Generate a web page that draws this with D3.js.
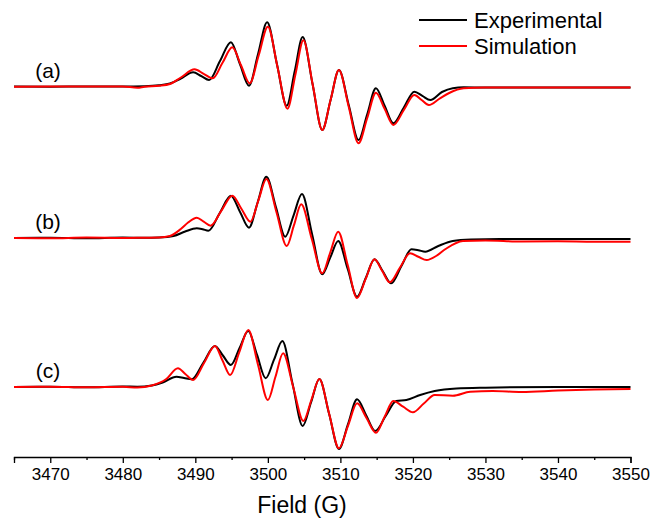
<!DOCTYPE html>
<html>
<head>
<meta charset="utf-8">
<script src="https://cdn.jsdelivr.net/npm/d3@7"></script>
<style>
  html, body { margin: 0; padding: 0; background: #ffffff; }
  svg { display: block; font-family: "Liberation Sans", Arial, sans-serif; }
</style>
</head>
<body>
<svg id="chart" width="650" height="519"></svg>
<script>
// ---------------- DATA ----------------
const fieldDomain = [3465, 3550];
const majorTicks = [3470, 3480, 3490, 3500, 3510, 3520, 3530, 3540, 3550];
const minorTicks = [3465, 3475, 3485, 3495, 3505, 3515, 3525, 3535, 3545];
const panelLabels = ["(a)", "(b)", "(c)"];
const panelOffsets = [0, -151, -300];
const seriesNames = ["Experimental", "Simulation"];
const seriesColors = ["#000000", "#ff0000"];

// [field (G), intensity]
const expA = [[3465,0.5],[3470,0.3],[3475,0.6],[3480,0.4],[3483,0.8],[3485,1.8],[3486.5,3.5],[3488,8.5],[3489.7,14.7],[3490.8,11],[3491.9,7],[3493.4,25.9],[3494.9,44.7],[3496.15,23],[3497.4,1.3],[3498.65,33],[3499.9,64.7],[3501.25,23],[3502.6,-18.7],[3503.7,15.7],[3504.8,50],[3506.15,3.5],[3507.5,-43],[3508.65,-13],[3509.8,17],[3511.15,-18],[3512.5,-53],[3513.7,-27.2],[3514.9,-1.3],[3516.1,-18.8],[3517.3,-36.3],[3518.75,-20.5],[3520.2,-4.7],[3521.3,-8.9],[3522.4,-13],[3524,-5],[3525.5,-1.2],[3527,-0.3],[3530,-0.6],[3535,-0.4],[3540,-0.6],[3545,-0.5],[3550,-0.5]];
const simA = [[3465,0.3],[3470,0.5],[3475,0.4],[3480,0.6],[3482,-0.8],[3483,0.3],[3485,1.2],[3486.5,3],[3488,9.5],[3489.9,17.7],[3491.15,13.2],[3492.4,8.7],[3493.75,24.2],[3495.1,39.7],[3496.3,21.7],[3497.5,3.7],[3498.75,32],[3500.0,60.3],[3501.35,19.3],[3502.7,-21.7],[3503.8,12.5],[3504.9,46.7],[3506.2,1.8],[3507.5,-43],[3508.65,-13],[3509.8,17],[3511.15,-19.7],[3512.5,-56.3],[3513.7,-31],[3514.9,-5.7],[3516.1,-21.8],[3517.3,-38],[3518.75,-23],[3520.2,-8],[3521.2,-13],[3522.2,-18],[3523.6,-12],[3525,-6],[3527,-1.3],[3530,-0.6],[3535,-0.5],[3540,-0.5],[3550,-0.5]];

const expB = [[3465,0],[3470,0.3],[3475,-0.3],[3480,0.4],[3483,0.2],[3485,0.5],[3487,2],[3488.6,6.5],[3490.2,9.7],[3491,8.8],[3491.8,7.3],[3493.35,24.8],[3494.9,42.3],[3496.15,26.3],[3497.4,10.3],[3498.6,35.8],[3499.8,61.3],[3501.1,31.3],[3502.4,1.3],[3503.55,22.7],[3504.7,44],[3506.1,3.8],[3507.5,-36.3],[3508.6,-19.6],[3509.7,-3],[3511,-30.8],[3512.3,-58.7],[3513.5,-40],[3514.7,-21.3],[3515.85,-33.3],[3517.0,-45.3],[3518.4,-28.3],[3519.8,-11.3],[3520.75,-12.2],[3521.7,-13.7],[3523.5,-8],[3525.5,-3],[3528,-1.5],[3532,-1],[3540,-1],[3550,-1]];
const simB = [[3465,0],[3470,-0.3],[3475,0.4],[3480,0],[3483,0.3],[3485,0.5],[3486.5,2],[3488,9],[3489,15.5],[3490.2,20.3],[3491.15,16.3],[3492.1,12.3],[3493.6,27.3],[3495.1,42.3],[3496.35,29.3],[3497.6,16.3],[3498.7,37.7],[3499.8,59],[3501.2,25.5],[3502.6,-8],[3503.6,12.8],[3504.6,33.7],[3506.05,-0.8],[3507.5,-35.3],[3508.6,-14.5],[3509.7,6.3],[3511,-26.8],[3512.3,-60],[3513.5,-40.7],[3514.7,-21.3],[3515.75,-32.8],[3516.8,-44.3],[3518.2,-29.8],[3519.6,-15.3],[3520.75,-18.7],[3521.9,-22],[3523.2,-18],[3524.5,-11],[3526.9,-3],[3530,-2.5],[3535,-3.5],[3540,-3.3],[3545,-3.7],[3550,-3.7]];

const expC = [[3465,0],[3470,0.3],[3475,-0.3],[3480,0.5],[3482,0.3],[3484,1.5],[3485.5,4.5],[3487.4,10.3],[3488.45,9],[3489.5,7.7],[3491.1,24.3],[3492.7,41],[3493.8,31.5],[3494.9,22],[3496.1,39],[3497.3,56],[3498.5,32.3],[3499.7,8.7],[3500.85,27.3],[3502.0,46],[3503.4,3.5],[3504.8,-39],[3505.95,-15.5],[3507.1,8],[3508.45,-27],[3509.8,-62],[3511.05,-37.2],[3512.3,-12.3],[3513.55,-28.2],[3514.8,-44],[3516.25,-29],[3517.7,-14],[3519.1,-13],[3521,-8],[3523,-4],[3526,-1.5],[3530,-0.7],[3540,0],[3550,0]];
const simC = [[3465,0],[3470,0.3],[3475,-0.3],[3480,0.2],[3482,-0.5],[3484,1.5],[3486,8],[3487.6,18.7],[3488.65,12.8],[3489.7,7],[3491.2,24],[3492.7,41],[3493.75,26.5],[3494.8,12],[3496.05,34.5],[3497.3,57],[3498.65,22],[3500.0,-13],[3501.05,10.3],[3502.1,33.7],[3503.5,-0.2],[3504.9,-34],[3506,-13],[3507.1,8],[3508.45,-26.7],[3509.8,-61.3],[3511.05,-38.8],[3512.3,-16.3],[3513.6,-31],[3514.9,-45.7],[3516.1,-29.8],[3517.3,-14],[3518.65,-19.7],[3520.0,-25.3],[3521.5,-16.5],[3523,-8],[3525.5,-8.7],[3527.9,-4.7],[3531,-4],[3535,-5],[3540,-3.5],[3545,-2.5],[3550,-2]];

const panels = [
  { label: panelLabels[0], offset: panelOffsets[0], exp: expA, sim: simA },
  { label: panelLabels[1], offset: panelOffsets[1], exp: expB, sim: simB },
  { label: panelLabels[2], offset: panelOffsets[2], exp: expC, sim: simC }
];

// ---------------- CHART ----------------
const svg = d3.select("#chart");
const x = d3.scaleLinear().domain(fieldDomain).range([14, 630.5]);
const y = d3.scaleLinear().domain([-370, 87]).range([457, 0]);

const line = d3.line()
  .x(d => x(d[0]))
  .y(d => y(d[1]))
  .curve(d3.curveMonotoneX);

const g = svg.append("g");
panels.forEach(p => {
  const shifted = arr => arr.map(d => [d[0], d[1] + p.offset]);
  g.append("path").datum(shifted(p.exp))
    .attr("d", line).attr("fill", "none")
    .attr("stroke", seriesColors[0]).attr("stroke-width", 2)
    .attr("stroke-linejoin", "round");
  g.append("path").datum(shifted(p.sim))
    .attr("d", line).attr("fill", "none")
    .attr("stroke", seriesColors[1]).attr("stroke-width", 2)
    .attr("stroke-linejoin", "round");
  svg.append("text")
    .attr("x", 48).attr("y", y(p.offset) - 9)
    .attr("text-anchor", "middle")
    .attr("font-size", 21)
    .attr("fill", "#000")
    .text(p.label);
});

// axis
const axisG = svg.append("g").attr("transform", `translate(0,${y(-370)})`);
axisG.call(d3.axisBottom(x).tickValues(majorTicks).tickSize(6).tickPadding(5).tickFormat(d3.format("d")))
  .call(s => s.select(".domain").attr("stroke-width", 1.3))
  .call(s => s.selectAll(".tick line").attr("stroke-width", 1.3))
  .call(s => s.selectAll(".tick text").attr("font-size", 17).attr("font-family", '"Liberation Sans", Arial, sans-serif').attr("fill", "#000"));
svg.append("g").attr("transform", `translate(0,${y(-370)})`)
  .call(d3.axisBottom(x).tickValues(minorTicks).tickSize(3).tickFormat(""))
  .call(s => s.select(".domain").remove())
  .call(s => s.selectAll(".tick line").attr("stroke-width", 1.3));

svg.append("text")
  .attr("x", 302).attr("y", 513)
  .attr("text-anchor", "middle")
  .attr("font-size", 23)
  .attr("fill", "#000")
  .text("Field (G)");

// legend
const legend = svg.append("g");
seriesNames.forEach((name, i) => {
  const ly = 20 + i * 26;
  legend.append("line")
    .attr("x1", 419).attr("x2", 467).attr("y1", ly).attr("y2", ly)
    .attr("stroke", seriesColors[i]).attr("stroke-width", 2);
  legend.append("text")
    .attr("x", 474).attr("y", ly).attr("dy", "0.35em")
    .attr("font-size", 22)
    .attr("fill", "#000")
    .text(name);
});
</script>
</body>
</html>
